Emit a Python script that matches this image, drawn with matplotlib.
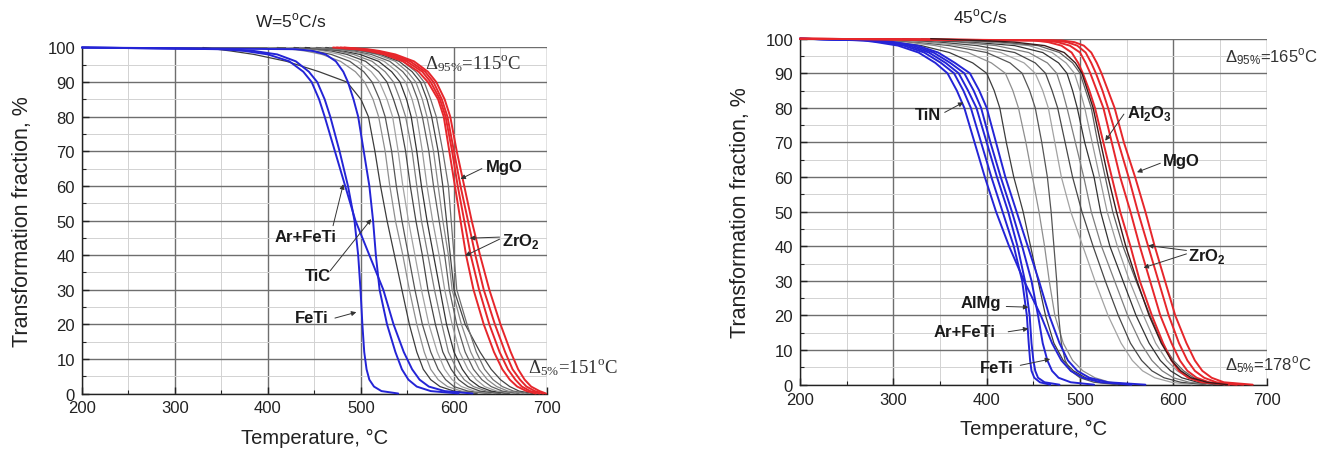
import matplotlib
matplotlib.use("Agg")
import matplotlib.pyplot as plt
from matplotlib.ticker import MultipleLocator

plt.rcParams['font.family'] = ['Liberation Sans', 'DejaVu Sans']
plt.rcParams['mathtext.fontset'] = 'custom'
plt.rcParams['mathtext.rm'] = 'Liberation Sans'
plt.rcParams['mathtext.bf'] = 'Liberation Sans:bold'

# ---------------- data: temperature (°C) at which each curve reaches a given fraction (%)
LEVELS = [100, 99.5, 99, 98, 96, 93, 90, 85, 80, 70, 60, 50, 40, 30, 20, 12, 7, 4, 2, 0.7, 0]

# W = 5 °C/s
w5_blue_ArFeTi = [200, 350, 375, 400, 423, 438, 447, 455, 461, 472, 483, 494, 509, 524, 535, 546, 555, 563, 573, 590, 620]
w5_blue_FeTi   = [200, 360, 385, 410, 430, 444, 453, 461, 467, 477, 486, 493, 497, 499.5, 501.5, 503.5, 506, 509, 514, 522, 540]
w5_blue_TiC    = [200, 430, 448, 462, 473, 481, 486, 492, 497, 503, 509, 513, 516, 520, 528, 537, 544, 551, 560, 575, 605]

w5_gray_01 = [330, 345, 360, 385, 420, 455, 485, 500, 508, 515, 521, 528, 536, 544, 552, 560, 567, 575, 585, 600, 625]
w5_gray_02 = [400, 425, 440, 458, 478, 494, 504, 513, 519, 526, 531, 537, 545, 552, 560, 568, 575, 583, 593, 608, 635]
w5_gray_03 = [410, 435, 450, 468, 488, 503, 512, 520, 526, 533, 538, 544, 551, 558, 566, 575, 583, 591, 600, 615, 640]
w5_gray_04 = [420, 445, 460, 477, 497, 511, 520, 528, 534, 540, 545, 551, 558, 565, 573, 582, 590, 598, 608, 622, 645]
w5_gray_05 = [428, 453, 468, 485, 505, 519, 528, 535, 541, 548, 553, 559, 566, 572, 580, 588, 597, 605, 615, 628, 650]
w5_gray_06 = [434, 460, 475, 492, 512, 526, 535, 542, 548, 555, 560, 565, 572, 579, 587, 594, 603, 611, 621, 635, 655]
w5_gray_07 = [440, 466, 481, 499, 519, 533, 542, 549, 554, 560, 565, 571, 578, 585, 592, 600, 609, 617, 627, 640, 660]
w5_gray_08 = [446, 472, 487, 505, 525, 539, 548, 555, 560, 566, 571, 577, 584, 590, 598, 606, 615, 624, 633, 646, 665]
w5_gray_09 = [452, 478, 493, 511, 531, 545, 554, 561, 566, 573, 578, 584, 590, 595, 603, 612, 621, 630, 640, 652, 670]
w5_gray_10 = [458, 484, 499, 517, 537, 550, 559, 566, 571, 578, 583, 588, 594, 598, 608, 618, 627, 636, 646, 658, 675]
w5_gray_11 = [462, 488, 503, 521, 541, 555, 564, 571, 576, 583, 588, 592, 596, 600, 612, 628, 640, 650, 660, 670, 685]
w5_gray_12 = [466, 492, 507, 525, 545, 559, 568, 575, 581, 588, 594, 597, 600, 603, 614, 624, 633, 642, 652, 664, 680]

w5_red_1 = [470, 495, 508, 525, 545, 562, 572, 583, 589, 595, 601, 607, 613, 621, 632, 643, 652, 660, 668, 678, 688]
w5_red_2 = [474, 499, 512, 529, 549, 566, 575, 585, 591, 598, 604, 611, 618, 627, 638, 649, 658, 666, 673, 682, 692]
w5_red_3 = [478, 503, 516, 533, 553, 569, 578, 587, 593, 600, 607, 615, 623, 632, 644, 655, 663, 671, 678, 687, 696]
w5_red_4 = [482, 507, 520, 537, 557, 572, 581, 590, 596, 603, 611, 619, 628, 638, 650, 661, 669, 676, 683, 692, 699]

# W = 45 °C/s
w45_blue_TiN    = [200, 268, 282, 305, 327, 345, 358, 368, 376, 387, 398, 410, 424, 440, 458, 470, 480, 490, 503, 522, 555]
w45_blue_AlMg   = [200, 273, 288, 311, 333, 351, 365, 375, 383, 394, 405, 417, 429, 438, 443, 445, 446.5, 448, 451, 457, 468]
w45_blue_ArFeTi = [200, 277, 292, 316, 338, 356, 370, 380, 389, 400, 411, 423, 433, 441, 446, 448, 450, 452, 455, 462, 478]
w45_blue_FeTi   = [200, 281, 297, 321, 343, 361, 376, 386, 394, 404, 415, 427, 438, 448, 455, 460, 465, 470, 477, 490, 515]
w45_blue_5      = [200, 285, 301, 326, 348, 366, 382, 392, 400, 410, 420, 432, 444, 456, 467, 478, 487, 497, 510, 530, 570]

w45_gray_01 = [250, 280, 300, 330, 360, 385, 400, 408, 414, 421, 429, 439, 447, 455, 463, 472, 482, 493, 506, 522, 545]
w45_gray_02 = [260, 290, 315, 345, 380, 405, 420, 428, 434, 442, 449, 456, 462, 467, 473, 482, 492, 503, 516, 532, 555]
w45_gray_03 = [270, 300, 325, 360, 400, 425, 438, 446, 452, 459, 465, 469, 472, 475, 477, 480, 484, 490, 500, 515, 540]
w45_gray_04 = [280, 310, 335, 372, 415, 440, 452, 460, 466, 473, 480, 490, 503, 516, 530, 544, 556, 567, 580, 598, 620]
w45_gray_05 = [290, 320, 350, 390, 430, 452, 463, 470, 476, 484, 492, 502, 514, 527, 541, 554, 566, 577, 590, 608, 635]
w45_gray_06 = [300, 335, 370, 410, 445, 465, 475, 481, 486, 495, 504, 512, 523, 537, 551, 565, 577, 588, 600, 617, 642]
w45_gray_07 = [310, 345, 385, 430, 460, 477, 486, 492, 497, 505, 515, 522, 532, 546, 560, 574, 586, 597, 609, 626, 648]
w45_gray_08 = [320, 360, 400, 445, 470, 485, 494, 500, 505, 513, 521, 529, 540, 553, 568, 581, 593, 604, 616, 632, 655]
w45_gray_09 = [330, 375, 415, 455, 478, 492, 500, 506, 512, 519, 527, 535, 546, 560, 575, 588, 600, 611, 622, 638, 660]
w45_dark_Al2O3 = [340, 390, 430, 462, 483, 495, 502, 508, 514, 522, 530, 539, 549, 561, 574, 587, 598, 608, 619, 636, 658]

w45_red_1 = [200, 450, 466, 480, 491, 498, 503, 510, 516, 525, 534, 543, 554, 564, 577, 589, 598, 606, 616, 630, 660]
w45_red_2 = [200, 460, 476, 489, 500, 506, 511, 518, 525, 534, 543, 554, 564, 575, 586, 598, 607, 615, 625, 638, 668]
w45_red_3 = [200, 470, 486, 497, 506, 512, 517, 524, 530, 541, 552, 562, 573, 584, 595, 606, 615, 623, 633, 646, 675]
w45_red_4 = [200, 480, 494, 504, 512, 518, 523, 530, 537, 547, 559, 570, 580, 591, 602, 614, 623, 631, 641, 654, 685]

X_TICKS = [200, 300, 400, 500, 600, 700]
Y_TICKS = [0, 10, 20, 30, 40, 50, 60, 70, 80, 90, 100]

# ---------------- styles
BLUE = '#2424d6'
RED = '#e6262b'
GRAYS = ['#3c3c3c', '#8e8e8e', '#555555', '#a2a2a2', '#474747', '#7d7d7d',
         '#333333', '#999999', '#5e5e5e', '#888888', '#444444', '#6e6e6e']

fig = plt.figure(figsize=(13.18, 4.52), dpi=100)
ax1 = fig.add_axes([0.0622, 0.1272, 0.3528, 0.7655])
ax2 = fig.add_axes([0.607, 0.1467, 0.3541, 0.7655])


def style_axes(ax):
    ax.set_xlim(200, 700)
    ax.set_ylim(0, 100)
    ax.set_xticks(X_TICKS)
    ax.set_yticks(Y_TICKS)
    ax.xaxis.set_minor_locator(MultipleLocator(50))
    ax.yaxis.set_minor_locator(MultipleLocator(5))
    ax.set_axisbelow(True)
    ax.grid(which='major', color='#6e6e6e', lw=1.0)
    ax.grid(which='minor', color='#d2d2d2', lw=0.7)
    for s in ('top', 'right'):
        ax.spines[s].set_visible(False)
    for s in ('left', 'bottom'):
        ax.spines[s].set_color('#222222')
        ax.spines[s].set_linewidth(1.0)
    ax.tick_params(which='major', direction='in', length=5, width=1, labelsize=12,
                   colors='#222222', pad=5)
    ax.tick_params(which='minor', direction='in', length=3, width=0.8, colors='#222222')
    ax.set_xlabel('Temperature, °C', fontsize=14.5, color='#222222', labelpad=9)
    ax.set_ylabel('Transformation fraction, %', fontsize=15.5, color='#222222', labelpad=10)


def draw(ax, curves, color, lw, z):
    for i, c in enumerate(curves):
        col = color[i % len(color)] if isinstance(color, list) else color
        ax.plot(c, LEVELS, color=col, lw=lw, zorder=z, clip_on=False,
                solid_joinstyle='round', solid_capstyle='round')


style_axes(ax1)
style_axes(ax2)

draw(ax1, [w5_gray_01, w5_gray_02, w5_gray_03, w5_gray_04, w5_gray_05, w5_gray_06,
           w5_gray_07, w5_gray_08, w5_gray_09, w5_gray_10, w5_gray_11, w5_gray_12],
     GRAYS, 0.9, 3)
draw(ax1, [w5_blue_ArFeTi, w5_blue_FeTi, w5_blue_TiC], BLUE, 1.4, 4)
draw(ax1, [w5_red_1, w5_red_2, w5_red_3, w5_red_4], RED, 1.4, 5)

draw(ax2, [w45_gray_01, w45_gray_02, w45_gray_03, w45_gray_04, w45_gray_05,
           w45_gray_06, w45_gray_07, w45_gray_08, w45_gray_09], GRAYS, 0.9, 3)
draw(ax2, [w45_blue_TiN, w45_blue_AlMg, w45_blue_ArFeTi, w45_blue_FeTi, w45_blue_5],
     BLUE, 1.4, 4)
draw(ax2, [w45_red_1, w45_red_2, w45_red_3, w45_red_4], RED, 1.4, 5)
draw(ax2, [w45_dark_Al2O3], '#3a1a1a', 1.0, 6)

# ---------------- annotations
ARW = dict(arrowstyle='-|>', color='#333333', lw=0.7, mutation_scale=7,
           shrinkA=0, shrinkB=0)
LBL = dict(fontsize=12, fontweight='bold', color='#1a1a1a')


def arrow(ax, start, end):
    ax.annotate('', xy=end, xytext=start, arrowprops=ARW, zorder=9)


# titles
ax1.text(424, 108, r'W=5$^\mathregular{o}$C/s', ha='center', va='center', fontsize=12.5,
         color='#222222', clip_on=False)
ax2.text(393, 106.5, r'45$^\mathregular{o}$C/s', ha='center', va='center', fontsize=12.5,
         color='#222222', clip_on=False)

# left panel
ax1.text(569, 95.5, r'$\mathregular{\Delta_{95\%}}$=115$^\mathregular{o}$C', ha='left',
         va='center', fontsize=13.5, family='Liberation Serif', color='#333333', zorder=10)
ax1.text(680, 7.8, r'$\mathregular{\Delta_{5\%}}$=151$^\mathregular{o}$C', ha='left',
         va='center', fontsize=13.5, family='Liberation Serif', color='#333333', zorder=10,
         clip_on=False)
ax1.text(634, 65.5, 'MgO', ha='left', va='center', zorder=10, **LBL)
arrow(ax1, (630, 65), (607, 62))
ax1.text(652, 44.3, r'ZrO$_\mathregular{2}$', ha='left', va='center', zorder=10, **LBL)
arrow(ax1, (649, 45.2), (617, 44.9))
arrow(ax1, (649, 44.6), (612, 39.8))
ax1.text(440, 45.5, 'Ar+FeTi', ha='center', va='center', zorder=10, **LBL)
arrow(ax1, (470, 48.5), (481, 60.5))
ax1.text(454, 34, 'TiC', ha='center', va='center', zorder=10, **LBL)
arrow(ax1, (467, 35.5), (511, 50.4))
ax1.text(447, 22, 'FeTi', ha='center', va='center', zorder=10, **LBL)
arrow(ax1, (472, 21.8), (495, 23.5))

# right panel
ax2.text(655, 94.8, r'$\mathregular{\Delta_{95\%}}$=165$^\mathregular{o}$C', ha='left',
         va='center', fontsize=12, color='#333333', zorder=10, clip_on=False)
ax2.text(655, 5.8, r'$\mathregular{\Delta_{5\%}}$=178$^\mathregular{o}$C', ha='left',
         va='center', fontsize=12, color='#333333', zorder=10, clip_on=False)
ax2.text(323, 78.2, 'TiN', ha='left', va='center', zorder=10, **LBL)
arrow(ax2, (355, 78.7), (375, 81.6))
ax2.text(550, 78.7, r'Al$_\mathregular{2}$O$_\mathregular{3}$', ha='left', va='center',
         zorder=10, **LBL)
arrow(ax2, (547, 78.2), (527, 70.5))
ax2.text(589, 64.7, 'MgO', ha='left', va='center', zorder=10, **LBL)
arrow(ax2, (586, 64), (561, 61.4))
ax2.text(616, 37.3, r'ZrO$_\mathregular{2}$', ha='left', va='center', zorder=10, **LBL)
arrow(ax2, (614, 38.8), (573, 40.2))
arrow(ax2, (614, 37.8), (568, 33.8))
ax2.text(372, 23.8, 'AlMg', ha='left', va='center', zorder=10, **LBL)
arrow(ax2, (421, 22.6), (444.6, 22.4))
ax2.text(343, 15.3, 'Ar+FeTi', ha='left', va='center', zorder=10, **LBL)
arrow(ax2, (423, 15.3), (444.6, 16.2))
ax2.text(393, 5.0, 'FeTi', ha='left', va='center', zorder=10, **LBL)
arrow(ax2, (436, 5.6), (468, 7.4))

fig.savefig('out.png', dpi=100)
